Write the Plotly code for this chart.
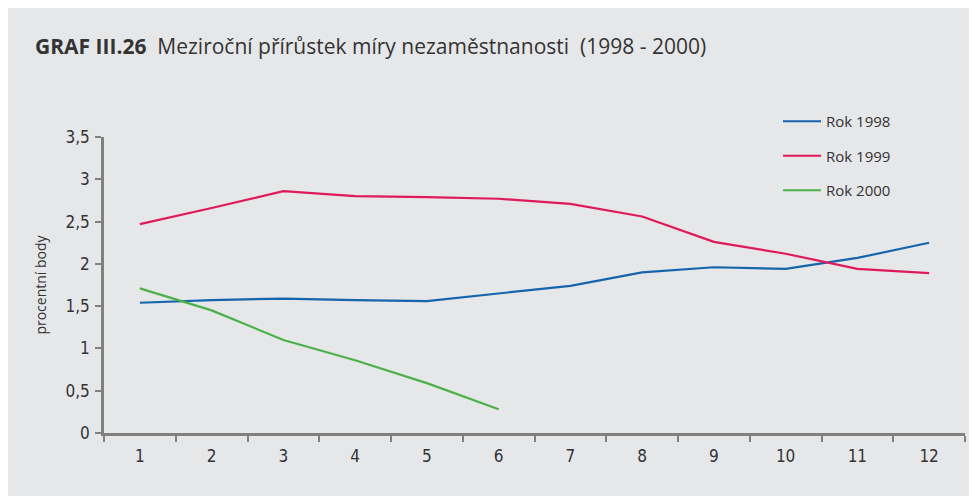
import plotly.graph_objects as go

months = [str(i) for i in range(1, 13)]
rok_1998 = [1.54, 1.57, 1.59, 1.57, 1.56, 1.65, 1.74, 1.90, 1.96, 1.94, 2.07, 2.25]
rok_1999 = [2.47, 2.66, 2.86, 2.80, 2.79, 2.77, 2.71, 2.56, 2.26, 2.12, 1.94, 1.89]
rok_2000 = [1.71, 1.45, 1.10, 0.86, 0.59, 0.28]
names = ["Rok 1998", "Rok 1999", "Rok 2000"]
colors = ["#1565ad", "#e01a5a", "#4cb14a"]
y_ticks = [0, 0.5, 1, 1.5, 2, 2.5, 3, 3.5]

FONT = "Open Sans, sans-serif"
BG = "#e6e7e9"
TICKFONT = dict(size=17, color="#333333", family="DejaVu Sans Condensed, Open Sans, sans-serif")

# page has an 8px body margin, so figure is shrunk/shifted accordingly
W, H = 969, 488
L, R, T, B = 96, 12, 129, 63
PW, PH = W - L - R, H - T - B

fig = go.Figure()
for i, (nm, ys) in enumerate(zip(names, [rok_1998, rok_1999, rok_2000])):
    fig.add_trace(go.Scatter(
        x=months[:len(ys)], y=ys, mode="lines", name=nm,
        line=dict(color=colors[i], width=2.2), legendgroup=nm,
    ))

fig.update_layout(
    width=W, height=H,
    paper_bgcolor=BG, plot_bgcolor=BG,
    margin=dict(l=L, r=R, t=T, b=B, autoexpand=False),
    separators=", ",
    font=dict(family=FONT, size=14, color="#333333"),
    showlegend=True,
    legend=dict(x=(770 - L) / PW, y=(H - B - 97) / PH, xanchor="left", yanchor="top",
                bgcolor="rgba(0,0,0,0)", font=dict(size=15, color="#333333"),
                tracegroupgap=12, itemwidth=38),
    annotations=[dict(
        x=(25 - L) / PW, y=(H - B - 38) / PH, xref="paper", yref="paper", showarrow=False,
        xanchor="left", yanchor="middle",
        text="<b>GRAF III.26</b>  Meziroční přírůstek míry nezaměstnanosti  (1998 - 2000)",
        font=dict(size=21, color="#333333", family=FONT),
    )],
)

fig.update_xaxes(
    type="category", tickson="boundaries", ticks="outside", ticklen=6,
    tickcolor="#808080", tickwidth=2, showline=True, linecolor="#808080",
    linewidth=2.5, showgrid=False, zeroline=False, automargin=False,
    tickfont=TICKFONT, ticklabelstandoff=6, range=[-0.5, 11.5],
)
fig.update_yaxes(
    range=[0, 3.5], tickvals=y_ticks, ticks="outside", ticklen=6,
    tickcolor="#808080", tickwidth=2, showline=True, linecolor="#808080",
    linewidth=2.5, showgrid=False, zeroline=False, automargin=False,
    tickfont=TICKFONT, ticklabelstandoff=2,
    title=dict(text="procentní body", font=dict(size=14, color="#333333"), standoff=16),
)

fig.write_html("out.html")
